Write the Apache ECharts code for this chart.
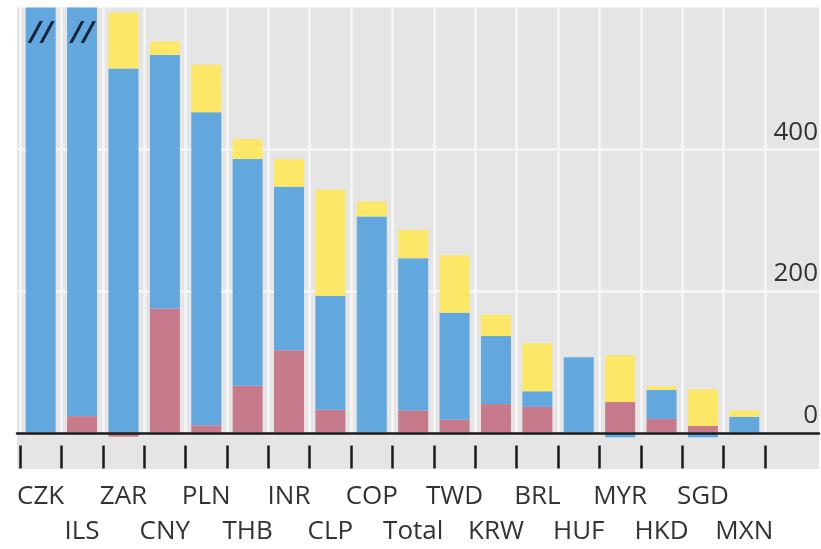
<!DOCTYPE html>
<html><head><meta charset="utf-8">
<script src="https://cdn.jsdelivr.net/npm/echarts@6/dist/echarts.min.js"></script>
<style>html,body{margin:0;padding:0;background:#fff}#c{width:821px;height:549px}</style>
</head><body><div id="c"></div>
<script>
var categories = ['CZK','ILS','ZAR','CNY','PLN','THB','INR','CLP','COP','Total','TWD','KRW','BRL','HUF','MYR','HKD','SGD','MXN'];
var pinkValues   = [0, 23, -6, 175, 10, 66, 116, 32, 0, 31, 18, 40, 36, 0, 43, 19, 9, 0];
var blueValues   = [700, 690, 514, 358, 442, 320, 231, 161, 305, 215, 151, 96, 22, 106, -7, 41, -7, 22];
var yellowValues = [0, 0, 79, 19, 67, 28, 39, 150, 21, 40, 81, 30, 68, 0, 66, 5, 52, 9];
var yTickLabels = [0, 200, 400];
var yGridLines = [200, 400];
var yMin = -51, yMax = 600;

var FONT = 'Open Sans';
var chart = echarts.init(document.getElementById('c'));
chart.setOption({
  animation: false,
  grid: [
    {left: 17, right: 0, top: 7.5, bottom: 80, show: true, backgroundColor: '#e5e5e5', borderWidth: 0},
    {left: 20, right: 56, top: 7.5, bottom: 80},
    {left: 20, right: 56, top: 7.5, bottom: 116}
  ],
  xAxis: [
    {gridIndex: 0, type: 'value', min: 0, max: 1, z: 5,
     axisLine: {show: true, onZero: true, lineStyle: {color: '#1a1a1a', width: 2.5}},
     axisTick: {show: false}, axisLabel: {show: false}, splitLine: {show: false}},
    {gridIndex: 1, type: 'category', data: categories, position: 'bottom',
     axisLine: {show: false, onZero: false},
     axisTick: {show: true, inside: true, length: 23, interval: 0, lineStyle: {color: '#1a1a1a', width: 2.5}},
     axisLabel: {show: true, interval: 0, margin: 10.5, fontFamily: FONT, fontSize: 26, color: '#333',
       lineHeight: 35, hideOverlap: false,
       formatter: function (v, i) { return i % 2 ? '\n' + v : v; }},
     splitLine: {show: false}},
    {gridIndex: 2, type: 'category', data: categories,
     axisLine: {show: false}, axisTick: {show: false}, axisLabel: {show: false},
     splitLine: {show: true, interval: 0, lineStyle: {color: '#f6f6f6', width: 2.5}}}
  ],
  yAxis: [
    {gridIndex: 0, type: 'value', min: yMin, max: yMax, position: 'right',
     axisLine: {show: false},
     axisTick: {show: false, customValues: yGridLines},
     axisLabel: {show: true, inside: true, margin: 1, customValues: yTickLabels,
       fontFamily: FONT, fontSize: 26, color: '#333', align: 'right', verticalAlign: 'bottom',
       padding: [0, 0, 4, 0]},
     splitLine: {show: true, lineStyle: {color: '#f6f6f6', width: 2.5}}},
    {gridIndex: 1, type: 'value', min: yMin, max: yMax, show: false, splitLine: {show: false}},
    {gridIndex: 2, type: 'value', min: 0, max: yMax, show: false, splitLine: {show: false}}
  ],
  series: [
    {name: 'pink', type: 'bar', stack: 's', xAxisIndex: 1, yAxisIndex: 1, barWidth: 30,
     data: pinkValues, itemStyle: {color: '#c67a8b'}},
    {name: 'blue', type: 'bar', stack: 's', xAxisIndex: 1, yAxisIndex: 1, barWidth: 30,
     data: blueValues, itemStyle: {color: '#62a8de'},
     label: {show: true, position: 'insideTop', distance: 12,
       formatter: function (p) { return p.value > yMax ? '//' : ''; },
       fontFamily: FONT, fontSize: 30, fontStyle: 'italic', fontWeight: 600, color: '#14253a',
       lineHeight: 30}},
    {name: 'yellow', type: 'bar', stack: 's', xAxisIndex: 1, yAxisIndex: 1, barWidth: 30,
     data: yellowValues, itemStyle: {color: '#fde766'}}
  ]
});
</script></body></html>
